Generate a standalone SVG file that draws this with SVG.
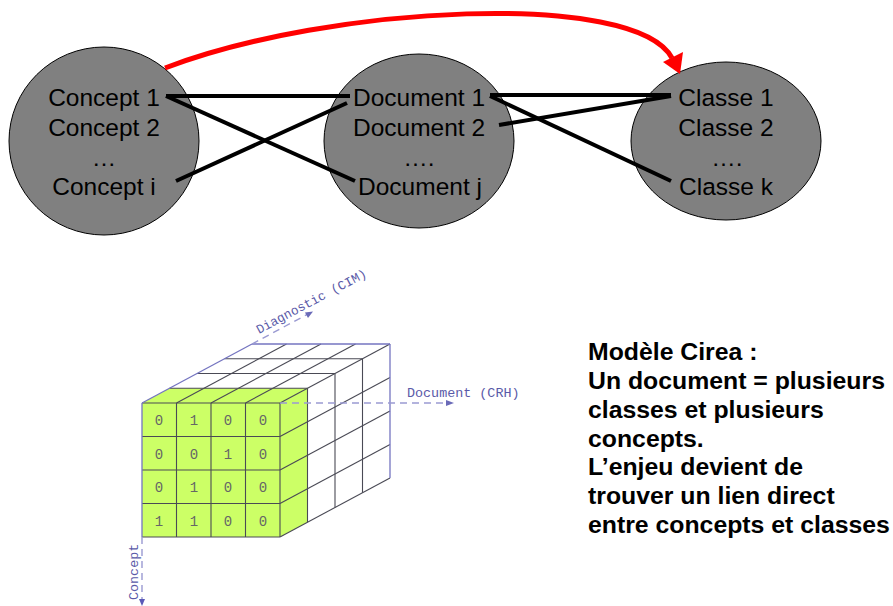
<svg xmlns="http://www.w3.org/2000/svg" width="893" height="606" viewBox="0 0 893 606">
  <style>
    .node { fill: #808080; stroke: #000; stroke-width: 1; }
    .lbl { font-family: "Liberation Sans", Arial, sans-serif; font-size: 24.5px; fill: #000; text-anchor: middle; }
    .link { stroke: #000; stroke-width: 4; fill: none; }
    .red { stroke: #ff0000; stroke-width: 5; fill: none; }
    .green { fill: #ccff66; stroke: none; }
    .grid { stroke: #4a4a55; stroke-width: 1.1; fill: none; }
    .edge { stroke: #7474c0; stroke-width: 1.3; fill: none; }
    .axis { stroke: #9a9ad2; stroke-width: 1.4; fill: none; stroke-dasharray: 7 5; }
    .axlbl { font-family: "Liberation Mono", "Courier New", monospace; fill: #5a5aa8; }
    .cell { font-family: "Liberation Mono", "Courier New", monospace; font-size: 14px; fill: #666; text-anchor: middle; }
    .note { font-family: "Liberation Sans", Arial, sans-serif; font-size: 24.8px; font-weight: bold; fill: #000; }
  </style>

  <!-- three sets -->
  <g id="concepts">
    <ellipse class="node" cx="104" cy="141" rx="95" ry="94"/>
    <text class="lbl" x="104" y="106">Concept 1</text>
    <text class="lbl" x="104" y="135.5">Concept 2</text>
    <text class="lbl" x="104" y="165.5">…</text>
    <text class="lbl" x="104" y="195">Concept i</text>
  </g>
  <g id="documents">
    <ellipse class="node" cx="419" cy="141" rx="95" ry="87"/>
    <text class="lbl" x="419" y="106">Document 1</text>
    <text class="lbl" x="419" y="135.5">Document 2</text>
    <text class="lbl" x="419" y="165.5">….</text>
    <text class="lbl" x="420" y="195">Document j</text>
  </g>
  <g id="classes">
    <ellipse class="node" cx="726" cy="141" rx="95" ry="79"/>
    <text class="lbl" x="726" y="106">Classe 1</text>
    <text class="lbl" x="726" y="135.5">Classe 2</text>
    <text class="lbl" x="727" y="165.5">….</text>
    <text class="lbl" x="726" y="195">Classe k</text>
  </g>

  <!-- links between the sets -->
  <g id="connectors">
    <line class="link" x1="166" y1="96" x2="350" y2="96"/>
    <line class="link" x1="166" y1="96" x2="355" y2="181"/>
    <line class="link" x1="176" y1="181" x2="347" y2="103"/>
    <line class="link" x1="490" y1="95" x2="671" y2="95"/>
    <line class="link" x1="490" y1="96" x2="671" y2="181"/>
    <line class="link" x1="499" y1="125" x2="671" y2="96"/>
    <path class="red" d="M165,68 C330,5 635,-10 672,58"/>
    <polygon fill="#ff0000" points="663,62 683,52 680,74"/>
  </g>

  <!-- concept x document x diagnostic cube -->
  <g id="cube">
    <rect class="green" x="142" y="403" width="138" height="134"/>
    <polygon class="green" points="142,403 280,403 307.5,388.25 169.5,388.25"/>
    <polygon class="green" points="280,403 307.5,388.25 307.5,522.25 280,537"/>

    <!-- top face -->
    <g class="grid">
      <line x1="169.5" y1="388.25" x2="307.5" y2="388.25"/>
      <line x1="197" y1="373.5" x2="335" y2="373.5"/>
      <line x1="224.5" y1="358.75" x2="362.5" y2="358.75"/>
      <line x1="176.5" y1="403" x2="286.5" y2="344"/>
      <line x1="211" y1="403" x2="321" y2="344"/>
      <line x1="245.5" y1="403" x2="355.5" y2="344"/>
      <!-- right face -->
      <line x1="307.5" y1="388.25" x2="307.5" y2="522.25"/>
      <line x1="335" y1="373.5" x2="335" y2="507.5"/>
      <line x1="362.5" y1="358.75" x2="362.5" y2="492.75"/>
      <line x1="280" y1="436.5" x2="390" y2="377.5"/>
      <line x1="280" y1="470" x2="390" y2="411"/>
      <line x1="280" y1="503.5" x2="390" y2="444.5"/>
      <line x1="280" y1="537" x2="390" y2="478"/>
      <!-- front face -->
      <line x1="142" y1="403" x2="280" y2="403"/>
      <line x1="142" y1="436.5" x2="280" y2="436.5"/>
      <line x1="142" y1="470" x2="280" y2="470"/>
      <line x1="142" y1="503.5" x2="280" y2="503.5"/>
      <line x1="142" y1="537" x2="280" y2="537"/>
      <line x1="176.5" y1="403" x2="176.5" y2="537"/>
      <line x1="211" y1="403" x2="211" y2="537"/>
      <line x1="245.5" y1="403" x2="245.5" y2="537"/>
      <line x1="280" y1="403" x2="280" y2="537"/>
      <line x1="280" y1="403" x2="390" y2="344"/>
    </g>
    <g class="edge">
      <line x1="142" y1="403" x2="142" y2="537"/>
      <line x1="142" y1="403" x2="252" y2="344"/>
      <line x1="252" y1="344" x2="390" y2="344"/>
      <line x1="390" y1="344" x2="390" y2="478"/>
    </g>

    <!-- cell values -->
    <g class="cell">
      <text x="159" y="425">0</text><text x="194" y="425">1</text><text x="228" y="425">0</text><text x="263" y="425">0</text>
      <text x="159" y="458.5">0</text><text x="194" y="458.5">0</text><text x="228" y="458.5">1</text><text x="263" y="458.5">0</text>
      <text x="159" y="492">0</text><text x="194" y="492">1</text><text x="228" y="492">0</text><text x="263" y="492">0</text>
      <text x="159" y="525.5">1</text><text x="194" y="525.5">1</text><text x="228" y="525.5">0</text><text x="263" y="525.5">0</text>
    </g>

    <!-- axes -->
    <line class="axis" x1="280" y1="403" x2="447" y2="403"/>
    <polygon fill="#6a6ab8" points="454,403 446,400 446,406"/>
    <text class="axlbl" x="407" y="397" font-size="13.4">Document (CRH)</text>

    <line class="axis" x1="252" y1="344" x2="308" y2="314"/>
    <polygon fill="#6a6ab8" points="313,311.5 305,312.5 308,318"/>
    <text class="axlbl" font-size="12.8" transform="translate(259,334) rotate(-28)">Diagnostic (CIM)</text>

    <line class="axis" x1="142" y1="537" x2="142" y2="599"/>
    <polygon fill="#5a5ab8" points="142,606 139,599 145,599"/>
    <text class="axlbl" font-size="13.4" transform="translate(138,600) rotate(-90)">Concept</text>
  </g>

  <!-- explanatory note -->
  <g id="note" class="note">
    <text x="588" y="360">Modèle Cirea :</text>
    <text x="588" y="388.8">Un document = plusieurs</text>
    <text x="588" y="417.7">classes et plusieurs</text>
    <text x="588" y="446.5">concepts.</text>
    <text x="588" y="475.3">L’enjeu devient de</text>
    <text x="588" y="504.2">trouver un lien direct</text>
    <text x="588" y="533">entre concepts et classes</text>
  </g>
</svg>
